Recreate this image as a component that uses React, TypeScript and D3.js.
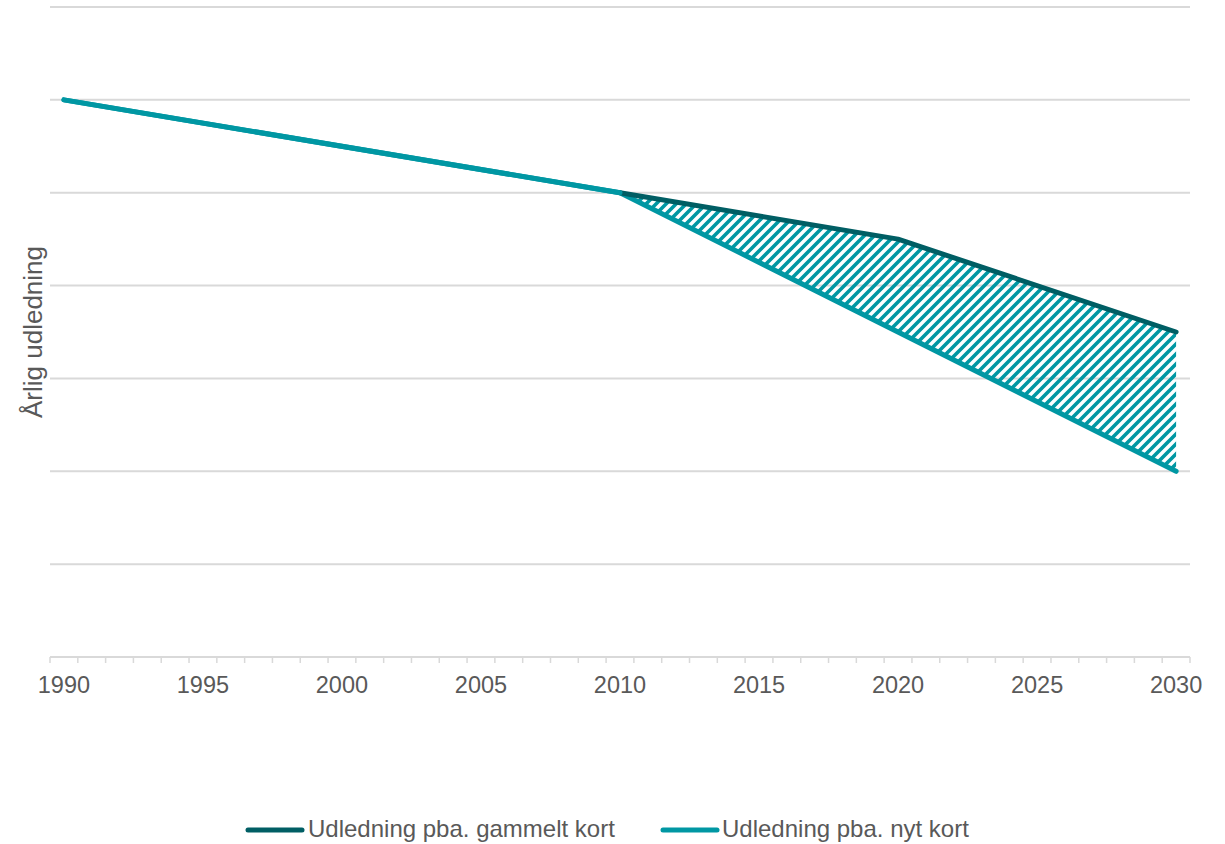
import React from "react";
import * as d3 from "d3";

const years: number[] = d3.range(1990, 2031);
const tickLabels: number[] = [1990, 1995, 2000, 2005, 2010, 2015, 2020, 2025, 2030];
const oldYears: number[] = [1990, 2010, 2020, 2030];
const oldValues: number[] = [6, 5, 4.5, 3.5];
const newYears: number[] = [1990, 2010, 2030];
const newValues: number[] = [6, 5, 2];
const gapYears: number[] = [2010, 2020, 2030];
const gapUpper: number[] = [5, 4.5, 3.5];
const gapLower: number[] = [5, 3.5, 2];
const yTicks: number[] = [0, 1, 2, 3, 4, 5, 6, 7];
const seriesNames: string[] = ["Udledning pba. gammelt kort", "Udledning pba. nyt kort"];
const colors: string[] = ["#005E64", "#0097A3"];

const W = 1225;
const H = 844;
const left = 50;
const right = 1190;
const top = 7;
const bottom = 657;
const font = "'Liberation Sans', Arial, sans-serif";

export default function App() {
  const x = d3.scaleBand<number>().domain(years).range([left, right]).padding(0);
  const bw = x.bandwidth();
  const cx = (yr: number) => (x(yr) as number) + bw / 2;
  const y = d3.scaleLinear().domain([0, 7]).range([bottom, top]);

  const line = d3
    .line<[number, number]>()
    .x((d) => cx(d[0]))
    .y((d) => y(d[1]));
  const area = d3
    .area<number>()
    .x((d) => cx(gapYears[d]))
    .y0((d) => y(gapLower[d]))
    .y1((d) => y(gapUpper[d]));

  const oldPts = oldYears.map((yr, i) => [yr, oldValues[i]] as [number, number]);
  const newPts = newYears.map((yr, i) => [yr, newValues[i]] as [number, number]);
  const boundaries = d3.range(years.length + 1).map((i) => left + i * bw);

  const legendItems = [
    { name: seriesNames[0], color: colors[0], x0: 248, x1: 302, tx: 308 },
    { name: seriesNames[1], color: colors[1], x0: 663, x1: 717, tx: 722 },
  ];

  return (
    <svg width={W} height={H} style={{ position: "absolute", left: 0, top: 0, background: "#fff" }}>
      <defs>
        <pattern id="hatch" patternUnits="userSpaceOnUse" width={10} height={10}>
          <path d="M-3,3 L3,-3 M0,10 L10,0 M7,13 L13,7" stroke={colors[1]} strokeWidth={3.6} />
        </pattern>
      </defs>
      {yTicks.slice(1).map((t) => (
        <line key={t} x1={left} x2={right} y1={y(t)} y2={y(t)} stroke="#d9d9d9" strokeWidth={2} />
      ))}
      <line x1={left} x2={right} y1={bottom} y2={bottom} stroke="#d9d9d9" strokeWidth={2} />
      {boundaries.map((bx, i) => (
        <line key={i} x1={bx} x2={bx} y1={bottom} y2={bottom + 6} stroke="#d9d9d9" strokeWidth={1.5} />
      ))}
      {tickLabels.map((t) => (
        <text key={t} x={cx(t)} y={693} textAnchor="middle" fontFamily={font} fontSize={23.5} fill="#595959">
          {t}
        </text>
      ))}
      <text
        transform={`translate(42, ${(top + bottom) / 2}) rotate(-90)`}
        textAnchor="middle"
        fontFamily={font}
        fontSize={26}
        fill="#595959"
      >
        Årlig udledning
      </text>
      <path d={area(d3.range(gapYears.length)) || ""} fill="url(#hatch)" />
      <path d={line(newPts) || ""} fill="none" stroke={colors[1]} strokeWidth={5} strokeLinecap="round" strokeLinejoin="round" />
      <path d={line(oldPts.slice(1)) || ""} fill="none" stroke={colors[0]} strokeWidth={5} strokeLinecap="round" strokeLinejoin="round" />
      <path d={line(oldPts.slice(0, 2)) || ""} fill="none" stroke={colors[1]} strokeWidth={5} strokeLinecap="round" />
      {legendItems.map((it) => (
        <g key={it.name}>
          <line x1={it.x0} x2={it.x1} y1={830} y2={830} stroke={it.color} strokeWidth={5} strokeLinecap="round" />
          <text x={it.tx} y={837} fontFamily={font} fontSize={24} fill="#595959">
            {it.name}
          </text>
        </g>
      ))}
    </svg>
  );
}
